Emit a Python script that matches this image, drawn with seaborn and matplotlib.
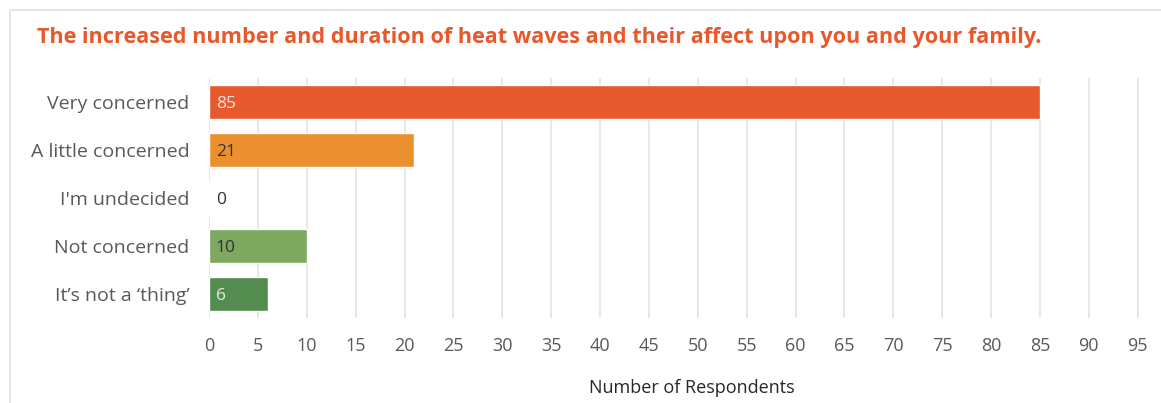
import matplotlib
matplotlib.use('Agg')
import matplotlib.pyplot as plt
import seaborn as sns
import pandas as pd
from matplotlib.patches import Rectangle

# dados do gráfico
categorias = ['Very concerned', 'A little concerned', "I'm undecided", 'Not concerned', 'It\u2019s not a \u2018thing\u2019']
respostas = [85, 21, 0, 10, 6]
cores = ['#E65A2E', '#EB902E', '#FFFFFF', '#7EA760', '#548B4F']
cores_rotulo = ['#FBE3DA', '#333333', '#333333', '#333333', '#E2EDDC']
ticks_x = list(range(0, 100, 5))

df = pd.DataFrame({'categoria': categorias, 'respostas': respostas})

sns.set_style('white')
plt.rcParams['font.family'] = ['Open Sans', 'DejaVu Sans']

fig = plt.figure(figsize=(11.61, 4.03), dpi=100)
W, H = 1161, 403
ax = fig.add_axes([209 / W, 1 - 318 / H, (1161 - 209) / W, (318 - 78) / H])

sns.barplot(data=df, y='categoria', x='respostas', hue='categoria', palette=cores,
            legend=False, width=0.72, ax=ax, saturation=1)

ax.set_xlim(0, (1161 - 209) / 9.776)
ax.set_ylim(4.5, -0.5)
ax.set_xticks(ticks_x)
ax.grid(axis='x', color='#E3E3E3', linewidth=1.2)
ax.set_axisbelow(True)
for s in ax.spines.values():
    s.set_visible(False)
ax.tick_params(axis='x', length=0, pad=14, labelsize=13, labelcolor='#595959')
ax.tick_params(axis='y', length=0, pad=14, labelsize=14, labelcolor='#595959')
ax.set_ylabel('')
ax.set_xlabel('Number of Respondents', fontsize=13, color='#262626')
ax.xaxis.set_label_coords((692 - 209) / (1161 - 209), -0.255)

# rótulos dos valores dentro das barras
for i, (v, c) in enumerate(zip(respostas, cores_rotulo)):
    ax.text(0.7, i, str(v), va='center_baseline', ha='left', fontsize=12.5, color=c)

# título
fig.text(37 / W, 1 - 37 / H, 'The increased number and duration of heat waves and their affect upon you and your family.',
         fontsize=15.6, fontweight='bold', color='#E8582A', va='center', ha='left')

# moldura
fig.patches.append(Rectangle((10 / W, -0.1), 1.2, 1 - 10 / H + 0.1, transform=fig.transFigure,
                             fill=False, edgecolor='#E0E0E0', linewidth=1.2))

fig.savefig('out.png', dpi=100)
